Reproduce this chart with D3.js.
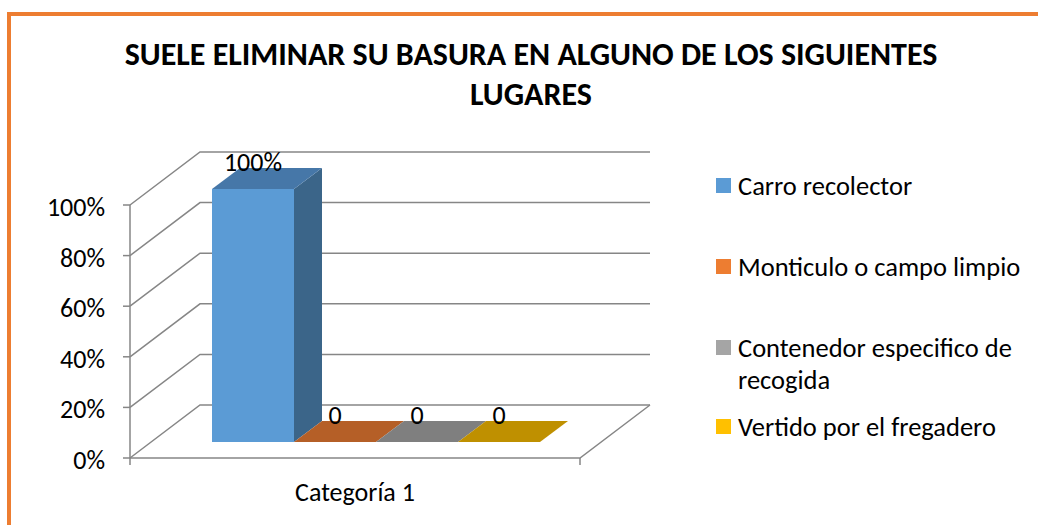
<!DOCTYPE html>
<html>
<head>
<meta charset="utf-8">
<script src="https://cdn.jsdelivr.net/npm/d3@7"></script>
<style>
  body { margin: 0; background: #fff; }
  text { font-family: Carlito, Calibri, Lato, sans-serif; fill: #000; }
</style>
</head>
<body>
<div id="chart"></div>
<script>
// data
var categories = ["Categoría 1"];
var seriesNames = ["Carro recolector", "Monticulo o campo limpio", "Contenedor especifico de recogida", "Vertido por el fregadero"];
var seriesValues = [1, 0, 0, 0];
var dataLabels = ["100%", "0", "0", "0"];
var yTicks = [0, 0.2, 0.4, 0.6, 0.8, 1];
var titleLines = ["SUELE ELIMINAR SU BASURA EN ALGUNO DE LOS SIGUIENTES", "LUGARES"];

var frontCol = ["#5b9bd5", "#ed7d31", "#a5a5a5", "#ffc000"];
var topCol   = ["#4677a8", "#b55f27", "#7f7f7f", "#bf9000"];
var sideCol  = ["#3b6589", "#9c4f1f", "#6e6e6e", "#a07800"];

var W = 1038, H = 525;
var svg = d3.select("#chart").append("svg")
    .attr("width", W)
    .attr("height", H);

// orange frame
svg.append("rect")
  .attr("x", 9).attr("y", 14)
  .attr("width", W + 20).attr("height", H + 20)
  .style("fill", "none")
  .style("stroke", "#ed7d31")
  .style("stroke-width", 4);

// title
svg.append("text")
  .attr("text-anchor", "middle")
  .style("font-size", "32px")
  .style("font-weight", "bold")
  .selectAll("tspan")
  .data(titleLines)
  .enter().append("tspan")
    .attr("x", 531)
    .attr("y", function(d, i) { return 65 + i * 40; })
    .text(function(d) { return d; });

// 3d geometry
var depthX = 70, depthY = -53;
function proj(x, y, t) { return [x + depthX * t, y + depthY * t]; }
function pts(arr) { return arr.map(function(p) { return p.join(","); }).join(" "); }

var y = d3.scaleLinear().domain([0, 1]).range([458, 205]);
var x = d3.scaleBand().domain(categories).range([130, 580])
    .paddingInner(0).paddingOuter(0.186);
var xs = d3.scaleBand().domain(seriesNames).range([0, x.bandwidth()]);

var grid = svg.append("g")
  .style("stroke", "#868686")
  .style("stroke-width", 1.5)
  .style("fill", "none");

// back wall lines + left wall diagonals
yTicks.forEach(function(t) {
  grid.append("polyline")
    .attr("points", pts([proj(130, y(t), 0), proj(130, y(t), 1), proj(580, y(t), 1)]));
});
// floor
grid.append("polyline").attr("points", pts([proj(130, y(0), 0), proj(580, y(0), 0), proj(580, y(0), 1)]));
// left axis
grid.append("line").attr("x1", 130).attr("x2", 130).attr("y1", y(1)).attr("y2", y(0) + 7);
yTicks.forEach(function(t) {
  grid.append("line").attr("x1", 123).attr("x2", 130).attr("y1", y(t)).attr("y2", y(t));
});
grid.append("line").attr("x1", 580).attr("x2", 580).attr("y1", y(0)).attr("y2", y(0) + 7);

// y labels
svg.append("g").selectAll("text")
  .data(yTicks)
  .enter().append("text")
    .attr("x", 105)
    .attr("y", function(d) { return y(d) + 11; })
    .attr("text-anchor", "end")
    .style("font-size", "26px")
    .text(d3.format(".0%"));

// category label
svg.append("text")
  .attr("x", x(categories[0]) + x.bandwidth() / 2)
  .attr("y", 501)
  .attr("text-anchor", "middle")
  .style("font-size", "26px")
  .text(categories[0]);

// bars
var t0 = 0.3, t1 = 0.7;
var bars = svg.append("g");
seriesNames.forEach(function(s, i) {
  var x0 = x(categories[0]) + xs(s), x1 = x0 + xs.bandwidth();
  var yb = y(0), yt = y(seriesValues[i]);
  var g = bars.append("g");
  if (seriesValues[i] > 0) {
    g.append("polygon").attr("points", pts([proj(x0, yt, t0), proj(x1, yt, t0), proj(x1, yb, t0), proj(x0, yb, t0)]))
      .style("fill", frontCol[i]);
    g.append("polygon").attr("points", pts([proj(x1, yt, t0), proj(x1, yt, t1), proj(x1, yb, t1), proj(x1, yb, t0)]))
      .style("fill", sideCol[i]);
  }
  g.append("polygon").attr("points", pts([proj(x0, yt, t0), proj(x1, yt, t0), proj(x1, yt, t1), proj(x0, yt, t1)]))
    .style("fill", topCol[i]);
  var lp = proj((x0 + x1) / 2, yt, t0);
  svg.append("text")
    .attr("x", lp[0]).attr("y", lp[1] - 18)
    .attr("text-anchor", "middle")
    .style("font-size", "26px")
    .text(dataLabels[i]);
});

// legend
var legendY = [186, 267, 348, 427];
var lg = svg.append("g");
seriesNames.forEach(function(s, i) {
  lg.append("rect")
    .attr("x", 716).attr("y", legendY[i] - 8)
    .attr("width", 15).attr("height", 15)
    .style("fill", frontCol[i]);
  var lines = i == 2 ? ["Contenedor especifico de", "recogida"] : [s];
  var txt = lg.append("text")
    .style("font-size", "26.5px");
  lines.forEach(function(l, j) {
    txt.append("tspan").attr("x", 738).attr("y", legendY[i] + 9 + j * 32).text(l);
  });
});
</script>
</body>
</html>
